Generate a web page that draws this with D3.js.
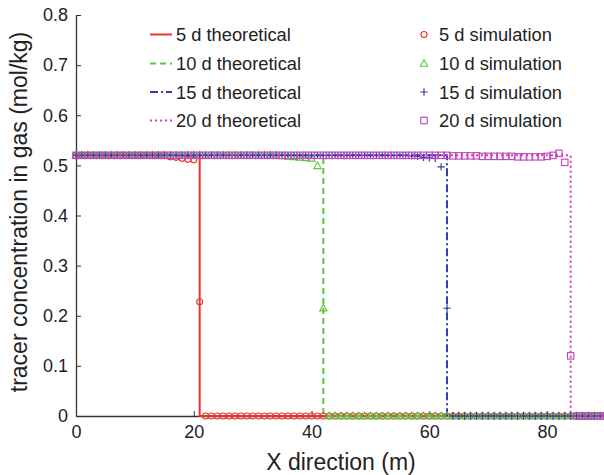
<!DOCTYPE html>
<html><head><meta charset="utf-8">
<script src="https://cdn.jsdelivr.net/npm/d3@7"></script>
<style>body{margin:0;background:#fff}svg{display:block;font-family:"Liberation Sans",Arial,sans-serif}</style>
</head><body><svg id="c" width="604" height="475"></svg>
<script>
// ---- data ----
const xTicks = [0, 20, 40, 60, 80];
const yTicks = [0, 0.1, 0.2, 0.3, 0.4, 0.5, 0.6, 0.7, 0.8];
const plateau = 0.52;
const fronts = [21, 42, 63, 84];           // theoretical front positions (m)
const seriesNames = ["5 d", "10 d", "15 d", "20 d"];
const xSim = [0,1,2,3,4,5,6,7,8,9,10,11,12,13,14,15,16,17,18,19,20,21,22,23,24,25,26,27,28,29,30,31,32,33,34,35,36,37,38,39,40,41,42,43,44,45,46,47,48,49,50,51,52,53,54,55,56,57,58,59,60,61,62,63,64,65,66,67,68,69,70,71,72,73,74,75,76,77,78,79,80,81,82,83,84,85,86,87,88,89,90];
const sim5 = [0.52,0.52,0.52,0.52,0.52,0.52,0.52,0.52,0.52,0.52,0.52,0.52,0.52,0.52,0.52,0.52,0.517,0.516,0.514,0.512,0.511,0.228,0,0,0,0,0,0,0,0,0,0,0,0,0,0,0,0,0,0,0,0,0,0,0,0,0,0,0,0,0,0,0,0,0,0,0,0,0,0,0,0,0,0,0,0,0,0,0,0,0,0,0,0,0,0,0,0,0,0,0,0,0,0,0,0,0,0,0,0,0];
const sim10 = [0.52,0.52,0.52,0.52,0.52,0.52,0.52,0.52,0.52,0.52,0.52,0.52,0.52,0.52,0.52,0.52,0.52,0.52,0.52,0.52,0.52,0.52,0.52,0.52,0.52,0.52,0.52,0.52,0.52,0.52,0.52,0.52,0.52,0.52,0.52,0.519,0.518,0.517,0.516,0.515,0.514,0.499,0.215,0,0,0,0,0,0,0,0,0,0,0,0,0,0,0,0,0,0,0,0,0,0,0,0,0,0,0,0,0,0,0,0,0,0,0,0,0,0,0,0,0,0,0,0,0,0,0,0];
const sim15 = [0.52,0.52,0.52,0.52,0.52,0.52,0.52,0.52,0.52,0.52,0.52,0.52,0.52,0.52,0.52,0.52,0.52,0.52,0.52,0.52,0.52,0.52,0.52,0.52,0.52,0.52,0.52,0.52,0.52,0.52,0.52,0.52,0.52,0.52,0.52,0.52,0.52,0.52,0.52,0.52,0.52,0.52,0.52,0.52,0.52,0.52,0.52,0.52,0.52,0.52,0.52,0.52,0.52,0.52,0.52,0.52,0.52,0.519,0.518,0.516,0.515,0.514,0.497,0.215,0,0,0,0,0,0,0,0,0,0,0,0,0,0,0,0,0,0,0,0,0,0,0,0,0,0,0];
const sim20 = [0.52,0.52,0.52,0.52,0.52,0.52,0.52,0.52,0.52,0.52,0.52,0.52,0.52,0.52,0.52,0.52,0.52,0.52,0.52,0.52,0.52,0.52,0.52,0.52,0.52,0.52,0.52,0.52,0.52,0.52,0.52,0.52,0.52,0.52,0.52,0.52,0.52,0.52,0.52,0.52,0.52,0.52,0.52,0.52,0.52,0.52,0.52,0.52,0.52,0.52,0.52,0.52,0.52,0.52,0.52,0.52,0.52,0.52,0.52,0.52,0.52,0.52,0.52,0.52,0.519,0.519,0.519,0.519,0.519,0.518,0.518,0.518,0.518,0.518,0.518,0.517,0.517,0.517,0.517,0.517,0.518,0.52,0.524,0.506,0.12,0,0,0,0,0,0];
const simValues = [sim5, sim10, sim15, sim20];

// ---- style ----
const colors = ["#e8352b", "#5cc446", "#2f40a8", "#c645bd"];
const dashes = [null, "6,4", "8,3,2,3", "2,3"];
const markers = ["circle", "triangle", "plus", "square"];

const svg = d3.select("#c");
const x = d3.scaleLinear().domain([0, 90]).range([76, 606]);
const y = d3.scaleLinear().domain([0, 0.8]).range([416, 15]);

// axes
const ax = svg.append("g").attr("transform", "translate(0,416)")
  .call(d3.axisBottom(x).tickValues(xTicks).tickSizeInner(-5).tickSizeOuter(0).tickPadding(9).tickFormat(d3.format("d")));
const ay = svg.append("g").attr("transform", "translate(76,0)")
  .call(d3.axisLeft(y).tickValues(yTicks).tickSizeInner(-5).tickSizeOuter(0).tickPadding(8).tickFormat(d => d === 0 ? "0" : d3.format(".1f")(d)));
[ax, ay].forEach(g => {
  g.select(".domain").attr("stroke", "#333").attr("stroke-width", 1.3);
  g.selectAll(".tick line").attr("stroke", "#333");
  g.selectAll(".tick text").attr("fill", "#222").style("font-size", "18px").style("font-family", "Liberation Sans, Arial, sans-serif");
});

// theoretical lines
const line = d3.line().x(d => x(d[0])).y(d => y(d[1]));
fronts.forEach((f, i) => {
  const pts = [[0, plateau], [f, plateau], [f, 0], [90, 0]];
  const p = svg.append("path").datum(pts).attr("d", line)
    .attr("fill", "none").attr("stroke", colors[i]).attr("stroke-width", 2);
  if (dashes[i]) p.attr("stroke-dasharray", dashes[i]);
});

// markers
function drawMarker(g, type, cx, cy, color) {
  if (type === "circle") g.append("circle").attr("cx", cx).attr("cy", cy).attr("r", 3).attr("fill", "none").attr("stroke", color);
  else if (type === "triangle") g.append("path").attr("d", `M${cx},${cy-3.8}L${cx+3.6},${cy+2.7}L${cx-3.6},${cy+2.7}Z`).attr("fill", "none").attr("stroke", color);
  else if (type === "plus") g.append("path").attr("d", `M${cx-3.7},${cy}H${cx+3.7}M${cx},${cy-3.7}V${cy+3.7}`).attr("fill", "none").attr("stroke", color);
  else g.append("rect").attr("x", cx-3.2).attr("y", cy-3.2).attr("width", 6.4).attr("height", 6.4).attr("fill", "none").attr("stroke", color);
}
simValues.forEach((vals, i) => {
  const g = svg.append("g").attr("stroke-width", 1.15);
  vals.forEach((v, k) => drawMarker(g, markers[i], x(xSim[k]), y(v), colors[i]));
});

// legend
const rowsY = [41, 70, 98.5, 127];
const leg = svg.append("g").style("font-size", "18.3px").attr("fill", "#222");
seriesNames.forEach((n, i) => {
  const l = leg.append("line").attr("x1", 150).attr("x2", 172).attr("y1", rowsY[i] - 6.5).attr("y2", rowsY[i] - 6.5)
    .attr("stroke", colors[i]).attr("stroke-width", 2);
  if (dashes[i]) l.attr("stroke-dasharray", dashes[i]);
  leg.append("text").attr("x", 176).attr("y", rowsY[i]).text(n + " theoretical");
  drawMarker(leg.append("g").attr("stroke-width", 1.15), markers[i], 424, rowsY[i] - 6.5, colors[i]);
  leg.append("text").attr("x", 439).attr("y", rowsY[i]).text(n + " simulation");
});

// axis titles
svg.append("text").attr("x", 341).attr("y", 470).attr("text-anchor", "middle")
  .style("font-size", "23px").attr("fill", "#222").text("X direction (m)");
svg.append("text").attr("transform", "translate(27,212) rotate(-90)").attr("text-anchor", "middle")
  .style("font-size", "23px").attr("fill", "#222").text("tracer concentration in gas (mol/kg)");
</script></body></html>
